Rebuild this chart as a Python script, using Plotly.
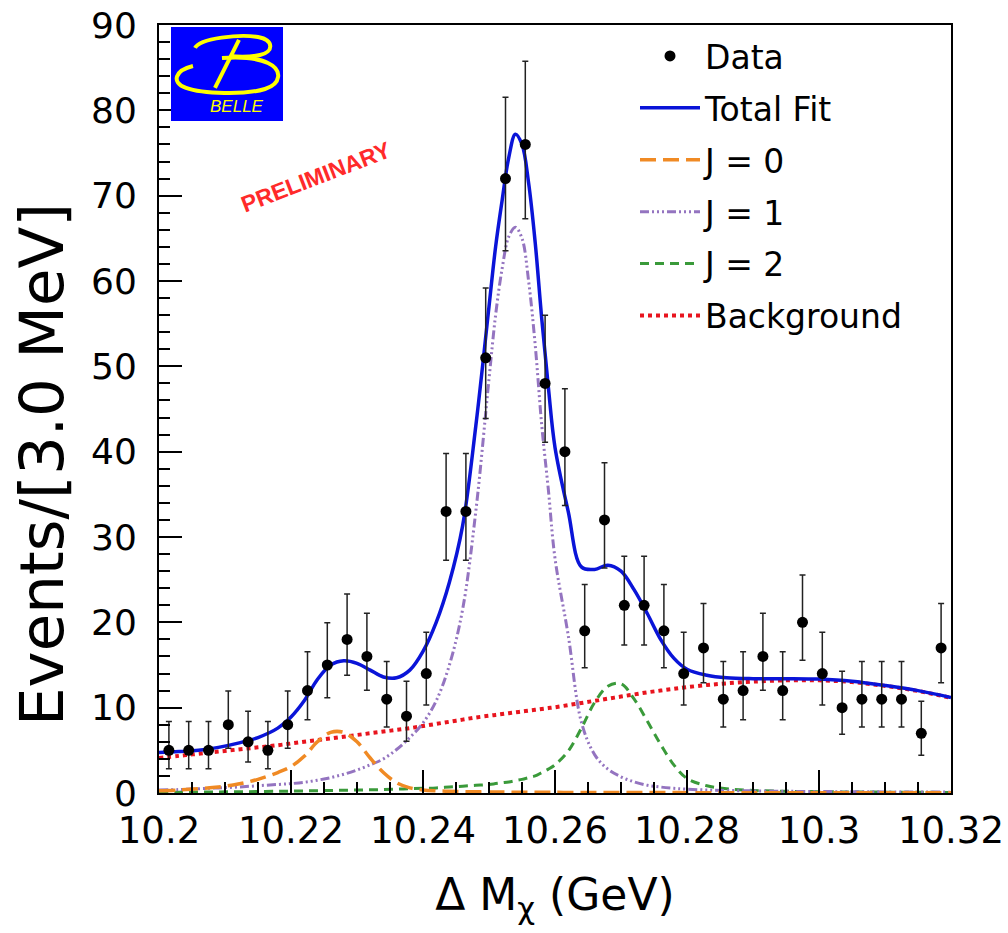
import numpy as np
import plotly.graph_objects as go

# ---------------- data ----------------
bin_lo = 10.2
bin_width = 0.003
counts = [5, 5, 5, 8, 6, 5, 8, 12, 15, 18,
          16, 11, 9, 14, 33, 33, 51, 72, 76, 48,
          40, 19, 32, 22, 22, 19, 14, 17, 11, 12,
          16, 12, 20, 14, 10, 11, 11, 11, 7, 17]

fit_x = [10.200, 10.203, 10.206, 10.209, 10.212, 10.215, 10.218, 10.220, 10.222, 10.224,
         10.226, 10.228, 10.230, 10.232, 10.234, 10.236, 10.238, 10.240, 10.242, 10.244,
         10.246, 10.248, 10.250, 10.251, 10.252, 10.253, 10.254, 10.255, 10.256, 10.257,
         10.258, 10.259, 10.260, 10.262, 10.264, 10.266, 10.268, 10.270, 10.272, 10.274,
         10.276, 10.278, 10.280, 10.283, 10.286, 10.290, 10.295, 10.300, 10.305, 10.310,
         10.315, 10.320]

total_fit = [4.75, 4.85, 5.0, 5.35, 5.85, 6.5, 7.6, 8.9, 10.8, 13.3,
             15.0, 15.5, 15.2, 14.4, 13.6, 13.5, 14.4, 16.6, 20.0, 24.7,
             31.3, 43.0, 57.0, 64.0, 69.5, 74.5, 77.2, 76.0, 71.5, 64.5,
             55.5, 47.5, 40.5, 33.0, 26.5, 26.2, 26.7, 26.0, 23.8, 21.0,
             18.0, 15.8, 14.5, 13.8, 13.5, 13.4, 13.4, 13.35, 13.1, 12.6,
             12.0, 11.2]

j0 = [0.25, 0.35, 0.5, 0.7, 1.05, 1.6, 2.4, 3.1, 4.3, 6.0,
      7.1, 7.1, 6.0, 4.1, 2.4, 1.2, 0.6, 0.35, 0.25, 0.2,
      0.16, 0.14, 0.12, 0.11, 0.11, 0.1, 0.1, 0.1, 0.09, 0.09,
      0.09, 0.08, 0.08, 0.07, 0.07, 0.06, 0.06, 0.06, 0.05, 0.05,
      0.05, 0.05, 0.04, 0.04, 0.04, 0.03, 0.03, 0.03, 0.03, 0.02,
      0.02, 0.02]

j1 = [0.35, 0.4, 0.5, 0.6, 0.7, 0.85, 1.0, 1.1, 1.25, 1.5,
      1.8, 2.2, 2.7, 3.3, 4.0, 5.1, 6.5, 8.2, 10.8, 15.0,
      21.5, 33.0, 48.5, 56.0, 61.5, 65.2, 66.3, 65.0, 60.0, 52.5,
      43.0, 35.5, 27.5, 18.5, 8.3, 4.5, 2.8, 1.9, 1.3, 0.9,
      0.7, 0.55, 0.45, 0.35, 0.3, 0.25, 0.2, 0.17, 0.15, 0.13,
      0.12, 0.1]

j2 = [0.1, 0.1, 0.12, 0.13, 0.15, 0.17, 0.2, 0.22, 0.25, 0.27,
      0.3, 0.32, 0.35, 0.38, 0.4, 0.45, 0.5, 0.55, 0.6, 0.7,
      0.8, 0.9, 1.0, 1.1, 1.2, 1.3, 1.45, 1.6, 1.8, 2.0,
      2.4, 2.8, 3.3, 4.9, 7.6, 10.6, 12.5, 12.8, 11.0, 8.4,
      5.7, 3.3, 1.7, 0.85, 0.5, 0.3, 0.2, 0.15, 0.12, 0.1,
      0.08, 0.07]

background = [4.1, 4.35, 4.6, 4.85, 5.1, 5.35, 5.6, 5.8, 6.0, 6.2,
              6.4, 6.6, 6.8, 7.0, 7.2, 7.4, 7.6, 7.85, 8.1, 8.35,
              8.6, 8.85, 9.05, 9.15, 9.25, 9.35, 9.45, 9.55, 9.65, 9.75,
              9.85, 9.95, 10.05, 10.3, 10.55, 10.8, 11.05, 11.3, 11.55, 11.8,
              12.0, 12.2, 12.4, 12.65, 12.85, 13.05, 13.2, 13.2, 13.0, 12.55,
              11.95, 11.15]

x_tick_vals = [10.2, 10.22, 10.24, 10.26, 10.28, 10.3, 10.32]
x_tick_text = ["10.2", "10.22", "10.24", "10.26", "10.28", "10.3", "10.32"]
y_tick_vals = [0, 10, 20, 30, 40, 50, 60, 70, 80, 90]
y_tick_text = ["0", "10", "20", "30", "40", "50", "60", "70", "80", "90"]

# ---------------- derived ----------------
n = np.array(counts, dtype=float)
bin_centers = bin_lo + bin_width * (np.arange(len(counts)) + 0.5)
# 68% central Poisson interval (Wilson-Hilferty approximation)
nn = np.maximum(n, 1)
lo = np.where(n > 0, n * (1 - 1 / (9 * nn) - 1 / (3 * np.sqrt(nn))) ** 3, 0)
hi = (n + 1) * (1 - 1 / (9 * (n + 1)) + 1 / (3 * np.sqrt(n + 1))) ** 3
err_minus = n - lo
err_plus = hi - n

FONT = "DejaVu Sans, Liberation Sans, Arial, sans-serif"
FONT2 = "Liberation Sans, Arial, sans-serif"

fig = go.Figure()

fig.add_trace(go.Scatter(x=fit_x, y=background, mode="lines", name="Background",
                         line=dict(color="#e8141e", width=4, dash="4px,4px", shape="spline"),
                         legendrank=6, legendgroup="g6"))
fig.add_trace(go.Scatter(x=fit_x, y=j2, mode="lines", name="J = 2",
                         line=dict(color="#3a9a3a", width=3, dash="9px,6px", shape="spline"),
                         legendrank=5, legendgroup="g5"))
fig.add_trace(go.Scatter(x=fit_x, y=j1, mode="lines", name="J = 1",
                         line=dict(color="#9474c0", width=3,
                                   dash="9px,3px,2px,3px,2px,3px,2px,3px", shape="spline"),
                         legendrank=4, legendgroup="g4"))
fig.add_trace(go.Scatter(x=fit_x, y=j0, mode="lines", name="J = 0",
                         line=dict(color="#f08a24", width=3.5, dash="16px,7px", shape="spline"),
                         legendrank=3, legendgroup="g3"))
fig.add_trace(go.Scatter(x=fit_x, y=total_fit, mode="lines", name="Total Fit",
                         line=dict(color="#0a14d8", width=3.5, shape="spline"),
                         legendrank=2, legendgroup="g2"))
fig.add_trace(go.Scatter(x=bin_centers, y=counts, mode="markers", name="Data",
                         marker=dict(color="black", size=11),
                         error_y=dict(type="data", symmetric=False, array=err_plus,
                                      arrayminus=err_minus, color="#222222",
                                      thickness=1.5, width=3),
                         legendrank=1, legendgroup="g1"))

# ---------------- layout ----------------
L, R, T, B = 159, 951, 25, 793
W, H = R - L, B - T


def P(px, py):
    return f"{(px - L) / W:.4f},{(B - py) / H:.4f}"


shapes = [
    dict(type="rect", xref="paper", yref="paper",
         x0=(171 - L) / W, x1=(283 - L) / W, y0=(B - 121) / H, y1=(B - 27) / H,
         fillcolor="#0000ff", line=dict(width=0), layer="above"),
    dict(type="path", xref="paper", yref="paper",
         path=f"M{P(195,48)} C{P(200,38)} {P(240,34)} {P(258,37)} C{P(274,40)} {P(274,52)} {P(260,55)} "
              f"C{P(250,57)} {P(240,57)} {P(230,56)}",
         line=dict(color="#ffff00", width=4), layer="above"),
    dict(type="path", xref="paper", yref="paper",
         path=f"M{P(239,40)} L{P(215,88)}",
         line=dict(color="#ffff00", width=4), layer="above"),
    dict(type="path", xref="paper", yref="paper",
         path=f"M{P(193,66)} C{P(176,70)} {P(170,82)} {P(186,88)} C{P(202,94)} {P(246,95)} {P(265,89)} "
              f"C{P(281,84)} {P(283,70)} {P(268,63)} C{P(258,58)} {P(238,57)} {P(222,58)}",
         line=dict(color="#ffff00", width=4), layer="above"),
]

annotations = [
    dict(text="BELLE", xref="paper", yref="paper", x=(237 - L) / W, y=(B - 106) / H,
         showarrow=False, xanchor="center", yanchor="middle",
         font=dict(family=FONT2, size=17, color="#ffff00", style="italic")),
    dict(text="PRELIMINARY", xref="paper", yref="paper", x=(316 - L) / W, y=(B - 177) / H,
         showarrow=False, xanchor="center", yanchor="middle", textangle=-21,
         font=dict(family=FONT2, size=23, color="#ff2a2a", weight="bold")),
    dict(text="Events/[3.0 MeV]", xref="paper", yref="paper", x=(41 - L) / W, y=(B - 465) / H,
         showarrow=False, xanchor="center", yanchor="middle", textangle=-90,
         font=dict(family=FONT, size=61, color="black")),
]

fig.update_layout(
    width=1008, height=933,
    margin=dict(l=L, r=1008 - R, t=T, b=933 - B, autoexpand=False),
    paper_bgcolor="white", plot_bgcolor="white",
    font=dict(family=FONT, color="black"),
    showlegend=True,
    legend=dict(x=(635 - L) / W, y=(B - 28) / H, xanchor="left", yanchor="top",
                bgcolor="rgba(255,255,255,0)", font=dict(family=FONT, size=33),
                tracegroupgap=6, itemwidth=60),
    shapes=shapes, annotations=annotations,
)

fig.update_xaxes(range=[10.2, 10.32], showgrid=False, zeroline=False, automargin=False,
                 showline=True, linecolor="black", linewidth=2, mirror=True,
                 ticks="inside", ticklen=23, tickwidth=2, tickcolor="black",
                 tickvals=x_tick_vals, ticktext=x_tick_text,
                 tickfont=dict(family=FONT, size=37), ticklabelstandoff=4,
                 minor=dict(dtick=0.005, tick0=10.2, ticks="inside", ticklen=11,
                            tickwidth=1.5, tickcolor="black", showgrid=False),
                 title=dict(text="Δ M<sub>χ</sub> (GeV)", font=dict(family=FONT, size=44),
                            standoff=28))
fig.update_yaxes(range=[0, 90], showgrid=False, zeroline=False, automargin=False,
                 showline=True, linecolor="black", linewidth=2, mirror=True,
                 ticks="inside", ticklen=23, tickwidth=2, tickcolor="black",
                 tickvals=y_tick_vals, ticktext=y_tick_text,
                 tickfont=dict(family=FONT, size=36), ticklabelstandoff=13,
                 minor=dict(dtick=2, tick0=0, ticks="inside", ticklen=11,
                            tickwidth=1.5, tickcolor="black", showgrid=False))

fig.write_html("out.html")
